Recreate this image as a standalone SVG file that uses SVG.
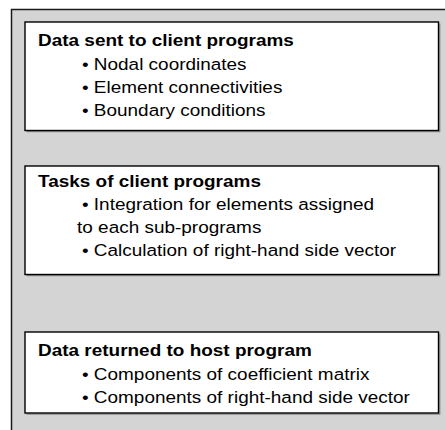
<svg xmlns="http://www.w3.org/2000/svg" width="445" height="430" viewBox="0 0 445 430">
  <style>
    .panel { fill: #d4d4d4; stroke: #1a1a1a; stroke-width: 1.5; }
    .box { fill: #ffffff; stroke: #000000; stroke-width: 1.4; }
    .shade { fill: none; stroke: #8a8a8a; stroke-width: 1.2; }
    .title { font-family: "Liberation Sans", Arial, sans-serif; font-size: 17px; font-weight: bold; fill: #000; }
    .item { font-family: "Liberation Sans", Arial, sans-serif; font-size: 17px; fill: #000; }
  </style>

  <!-- outer gray panel, running off the right and bottom edges -->
  <rect class="panel" x="11.5" y="9.5" width="460" height="450"/>

  <!-- lettering is set slightly wide: text x values are divided by 1.115 -->
  <g id="data-sent">
    <path class="shade" d="M439.8 23.5 V131.6 H26.5"/>
    <rect class="box" x="25" y="22" width="413.5" height="108.5"/>
    <g transform="scale(1.115 1)">
      <text class="title" x="34.1" y="46">Data sent to client programs</text>
      <text class="item" x="73.5" y="70">• Nodal coordinates</text>
      <text class="item" x="73.5" y="93">• Element connectivities</text>
      <text class="item" x="73.5" y="116">• Boundary conditions</text>
    </g>
  </g>

  <g id="client-tasks">
    <path class="shade" d="M439.8 167.5 V275.6 H26.5"/>
    <rect class="box" x="25" y="166" width="413.5" height="108.5"/>
    <g transform="scale(1.115 1)">
      <text class="title" x="34.1" y="187">Tasks of client programs</text>
      <text class="item" x="73.5" y="210">• Integration for elements assigned</text>
      <text class="item" x="69.1" y="233">to each sub-programs</text>
      <text class="item" x="73.5" y="256">• Calculation of right-hand side vector</text>
    </g>
  </g>

  <g id="data-returned">
    <path class="shade" d="M439.8 333.5 V414.1 H26.5"/>
    <rect class="box" x="25" y="332" width="413.5" height="81"/>
    <g transform="scale(1.115 1)">
      <text class="title" x="34.1" y="356">Data returned to host program</text>
      <text class="item" x="73.5" y="380">• Components of coefficient matrix</text>
      <text class="item" x="73.5" y="403">• Components of right-hand side vector</text>
    </g>
  </g>

  <g id="connectors"/>
</svg>
